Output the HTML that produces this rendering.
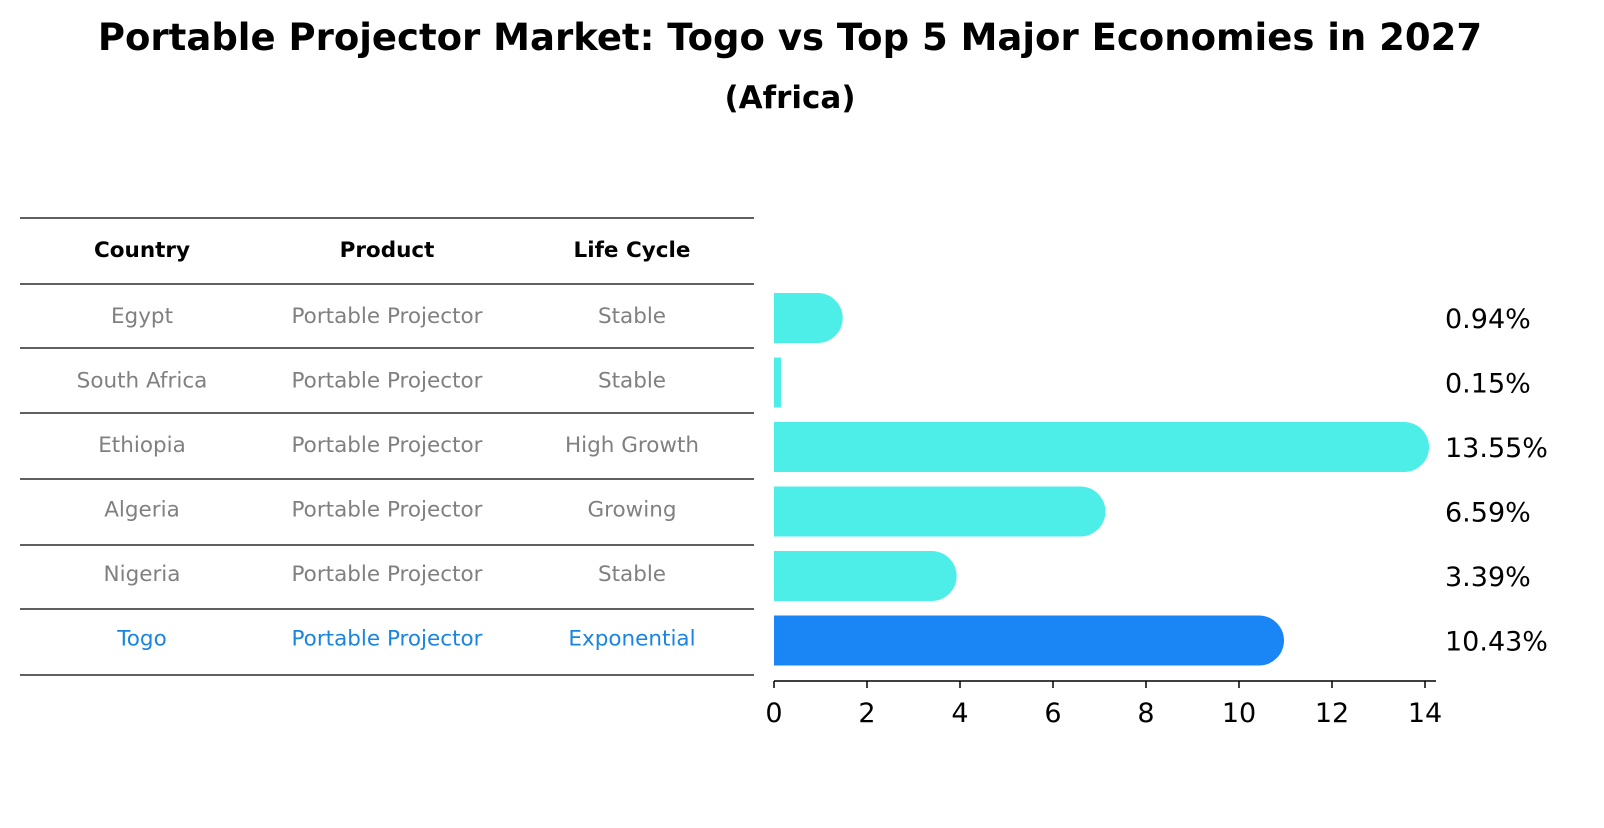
<!DOCTYPE html>
<html><head><meta charset="utf-8">
<style>
body{margin:0;background:#fff;font-family:"Liberation Sans","DejaVu Sans",sans-serif;}
svg text{font-family:"DejaVu Sans","Liberation Sans",sans-serif;}
</style></head>
<body>
<svg width="1604" height="823" viewBox="0 0 1604 823">
<text x="790" y="50" text-anchor="middle" font-size="37" font-weight="bold">Portable Projector Market: Togo vs Top 5 Major Economies in 2027</text>
<text x="790" y="108" text-anchor="middle" font-size="31" font-weight="bold">(Africa)</text>
<g id="table"></g>
<g id="bars"></g>
<g id="axis"></g>
</svg>
<script>
const countries=["Egypt","South Africa","Ethiopia","Algeria","Nigeria","Togo"];
const products=["Portable Projector","Portable Projector","Portable Projector","Portable Projector","Portable Projector","Portable Projector"];
const lifeCycles=["Stable","Stable","High Growth","Growing","Stable","Exponential"];
const values=[0.94,0.15,13.55,6.59,3.39,10.43];
const labels=["0.94%","0.15%","13.55%","6.59%","3.39%","10.43%"];
const ticks=[0,2,4,6,8,10,12,14];
const NS="http://www.w3.org/2000/svg";
function mk(tag,attrs,parent){const e=document.createElementNS(NS,tag);for(const k in attrs)e.setAttribute(k,attrs[k]);parent.appendChild(e);return e;}
const x0=774,ppu=46.5;
const xs=v=>x0+v*ppu;
const rowY=i=>316+i*64.5;
const tbl=document.getElementById('table');
const lineYs=[218,284,348,413,479,545,609,675];
lineYs.forEach(y=>{const l=mk('line',{x1:20,x2:754,y1:y,y2:y,stroke:'#000','stroke-width':1.2},tbl);

});
const colX=[142,387,632];
["Country","Product","Life Cycle"].forEach((h,j)=>{const t=mk('text',{x:colX[j],y:257,'text-anchor':'middle','font-size':21.5,'font-weight':'bold'},tbl);t.textContent=h;

});
countries.forEach((c,i)=>{
 const col=c==="Togo"?"#1a85e0":"#808080";
 [c,products[i],lifeCycles[i]].forEach((s,j)=>{const t=mk('text',{x:colX[j],y:rowY(i)+7,'text-anchor':'middle','font-size':21.5,fill:col},tbl);t.textContent=s;
 
 });
});
const bars=document.getElementById('bars');
const h=50,r=25;
values.forEach((v,i)=>{
 const cy=rowY(i)+2,w=xs(v)-x0,col=countries[i]==="Togo"?"#1a85f5":"#4deee8";
 let d;
 if(w>r){d=`M${x0},${cy-h/2} H${x0+w} A${r},${r} 0 0 1 ${x0+w},${cy+h/2} H${x0} Z`;}
 else{d=`M${x0},${cy-h/2} H${x0+w} V${cy+h/2} H${x0} Z`;}
 const p=mk('path',{d:d,fill:col},bars);
 
 
 const t=mk('text',{x:1445,y:cy+10,'font-size':27},bars);t.textContent=labels[i];
 
 
});
const ax=document.getElementById('axis');
mk('line',{x1:x0,x2:1436,y1:681,y2:681,stroke:'#000','stroke-width':1.5},ax);
ticks.forEach(tv=>{const x=xs(tv);mk('line',{x1:x,x2:x,y1:681,y2:688,stroke:'#000','stroke-width':1.5},ax);
 const t=mk('text',{x:x,y:722,'text-anchor':'middle','font-size':27},ax);t.textContent=tv;
 
 });
</script>
</body></html>
